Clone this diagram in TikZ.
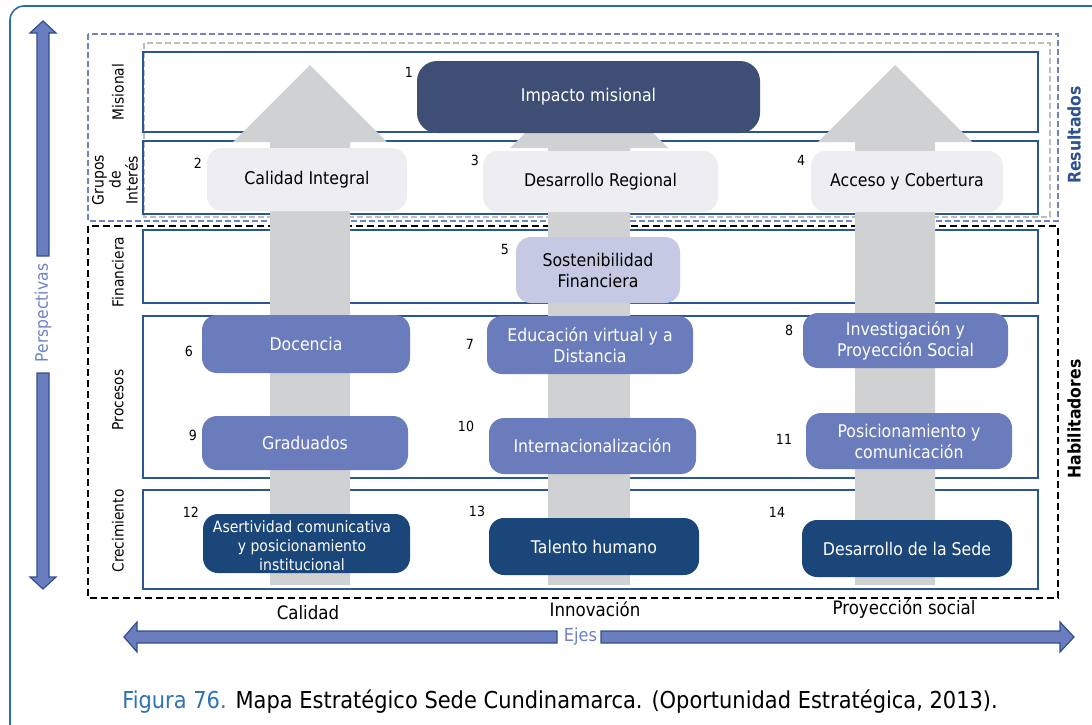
\documentclass[tikz,border=0pt]{standalone}
\usepackage{fontspec}
\setmainfont{DejaVu Sans}[FakeStretch=0.9]
\definecolor{outerc}{HTML}{2E6DA4}
\definecolor{rowc}{HTML}{2A5793}
\definecolor{agray}{HTML}{D0D1D3}
\definecolor{barfill}{HTML}{6A7DBE}
\definecolor{barline}{HTML}{2F4F8F}
\definecolor{impc}{HTML}{3E4E75}
\definecolor{lightc}{HTML}{EEEEF2}
\definecolor{lavc}{HTML}{C5C9E3}
\definecolor{midc}{HTML}{6B7CBC}
\definecolor{darkc}{HTML}{1B4679}
\definecolor{bdash}{HTML}{7083C4}
\definecolor{gdash}{HTML}{BDBDBD}
\definecolor{perspc}{HTML}{6E82C4}
\definecolor{resc}{HTML}{2F528F}
\definecolor{capblue}{HTML}{2E74B5}
\tikzset{
  rowbox/.style={draw=rowc, line width=1.6pt},
  objbox/.style={rounded corners=15pt, align=center, inner sep=2pt, font=\fontsize{17.5}{21}\selectfont},
  lightbox/.style={objbox, fill=lightc, text=black},
  lavbox/.style={objbox, fill=lavc, text=black},
  midbox/.style={objbox, fill=midc, text=white},
  darkbox/.style={objbox, fill=darkc, text=white},
  numlab/.style={font=\fontsize{14}{16}\selectfont, text=black},
  rowlab/.style={rotate=90, font=\fontsize{15.3}{17}\selectfont, align=center},
  axislab/.style={font=\fontsize{18.5}{21}\selectfont},
  bararrow/.style={fill=barfill, draw=barline, line width=1.2pt, line join=miter},
}
\begin{document}
\begin{tikzpicture}[x=1pt, y=-1pt]
\useasboundingbox (0,0) rectangle (1092,724);
\begin{scope}
\clip (0,0) rectangle (1092,724);
\draw[outerc, line width=1.6pt, rounded corners=14pt] (10,760) -- (10,6) -- (1120,6);
\end{scope}

% dashed groups
\draw[bdash, line width=1.3pt, dash pattern=on 6pt off 3pt] (88,34) rectangle (1058,221);
\draw[gdash, line width=1.3pt, dash pattern=on 6pt off 3pt] (144,43) rectangle (1050,217);
\draw[black, line width=1.3pt, dash pattern=on 7pt off 4pt] (88,226) rectangle (1058,598);

% rows
\draw[rowbox] (143,52) rectangle (1038,132);
\draw[rowbox] (143,141) rectangle (1038,214);
\draw[rowbox] (143,230) rectangle (1038,303);
\draw[rowbox] (143,316) rectangle (1038,478);
\draw[rowbox] (143,490) rectangle (1038,589);

% grey arrows
\fill[agray] (270,585) -- (270,142) -- (233,142) -- (310,65) -- (387,142) -- (350,142) -- (350,585) -- cycle;
\fill[agray] (548,585) -- (548,148) -- (510,148) -- (589,69) -- (668,148) -- (630,148) -- (630,585) -- cycle;
\fill[agray] (855,585) -- (855,142) -- (818,142) -- (895,65) -- (972,142) -- (935,142) -- (935,585) -- cycle;

% row labels
\node[rowlab] (lmis) at (118,92) {Misional};
\node[rowlab, font=\fontsize{15.5}{17}\selectfont] (lgru) at (115,180) {Grupos\\de\\Interés};
\node[rowlab] (lfin) at (118,272) {Financiera};
\node[rowlab] (lpro) at (118,400) {Procesos};
\node[rowlab] (lcre) at (118,531) {Crecimiento};

% objectives
\node[objbox, fill=impc, text=white, minimum width=343pt, minimum height=72pt, rounded corners=20pt] (n1) at (588.5,97) {Impacto misional};
\node[lightbox, minimum width=200pt, minimum height=63pt] (n2) at (307,179.5) {Calidad Integral};
\node[lightbox, minimum width=235pt, minimum height=61pt] (n3) at (600.5,181.5) {Desarrollo Regional};
\node[lightbox, minimum width=192pt, minimum height=61pt] (n4) at (907,181.5) {Acceso y Cobertura};
\node[lavbox, minimum width=164pt, minimum height=66pt] (n5) at (598,270) {Sostenibilidad\\Financiera};
\node[midbox, minimum width=208pt, minimum height=58pt] (n6) at (306,344) {Docencia};
\node[midbox, minimum width=206pt, minimum height=58pt] (n7) at (590,345) {Educación virtual y a\\Distancia};
\node[midbox, minimum width=205pt, minimum height=55pt] (n8) at (905.5,340.5) {Investigación y\\Proyección Social};
\node[midbox, minimum width=206pt, minimum height=54pt] (n9) at (305,443) {Graduados};
\node[midbox, minimum width=207pt, minimum height=56pt] (n10) at (592.5,446) {Internacionalización};
\node[midbox, minimum width=206pt, minimum height=56pt] (n11) at (909,441) {Posicionamiento y\\comunicación};
\node[darkbox, minimum width=207pt, minimum height=59pt] (n12) at (306.5,543.5) {};
\node[align=center, text=white, font=\fontsize{15.6}{19}\selectfont] (n12t) at (302,546) {Asertividad comunicativa\\y posicionamiento\\institucional};
\node[darkbox, minimum width=210pt, minimum height=57pt] (n13) at (594,546.5) {Talento humano};
\node[darkbox, minimum width=210pt, minimum height=57pt] (n14) at (907,548.5) {Desarrollo de la Sede};

% numbers
\node[numlab] (k1) at (409,72) {1};
\node[numlab] (k2) at (198,163) {2};
\node[numlab] (k3) at (475,160) {3};
\node[numlab] (k4) at (801,160) {4};
\node[numlab] (k5) at (505,249) {5};
\node[numlab] (k6) at (189,351) {6};
\node[numlab] (k7) at (470,344) {7};
\node[numlab] (k8) at (789,330) {8};
\node[numlab] (k9) at (193,435) {9};
\node[numlab] (k10) at (466,426) {10};
\node[numlab] (k11) at (784,439) {11};
\node[numlab] (k12) at (191,512) {12};
\node[numlab] (k13) at (477,511) {13};
\node[numlab] (k14) at (777,512) {14};

% right labels
\node[rotate=90, font=\bfseries\fontsize{17.4}{20}\selectfont, text=resc] (res) at (1074,135) {Resultados};
\node[rotate=90, font=\bfseries\fontsize{17.4}{20}\selectfont, text=black] (hab) at (1074,419) {Habilitadores};

% perspectivas arrow
\draw[bararrow] (37,256) -- (37,33) -- (30,33) -- (43,21) -- (56,33) -- (49,33) -- (49,256) -- cycle;
\draw[bararrow] (37,373) -- (37,577) -- (30,577) -- (43,589) -- (56,577) -- (49,577) -- (49,373) -- cycle;
\node[rotate=90, font=\fontsize{17.3}{20}\selectfont, text=perspc] (persp) at (43,313) {Perspectivas};

% ejes arrow
\draw[bararrow] (557,631) -- (137,631) -- (137,622) -- (124,637) -- (137,652) -- (137,643) -- (557,643) -- cycle;
\draw[bararrow] (601,631) -- (1060,631) -- (1060,622) -- (1074,637) -- (1060,652) -- (1060,643) -- (601,643) -- cycle;
\node[font=\fontsize{18}{20}\selectfont, text=perspc] (ejes) at (580.5,637) {Ejes};

% axis labels
\node[axislab] (ax1) at (308,613) {Calidad};
\node[axislab] (ax2) at (595,609) {Innovación};
\node[axislab] (ax3) at (904,609) {Proyección social};

% caption
\node[font=\fontsize{23.3}{26}\selectfont] (cap) at (560,702) {{\color{capblue}Figura 76.} Mapa Estratégico Sede Cundinamarca. (Oportunidad Estratégica, 2013).};
\end{tikzpicture}
\end{document}
